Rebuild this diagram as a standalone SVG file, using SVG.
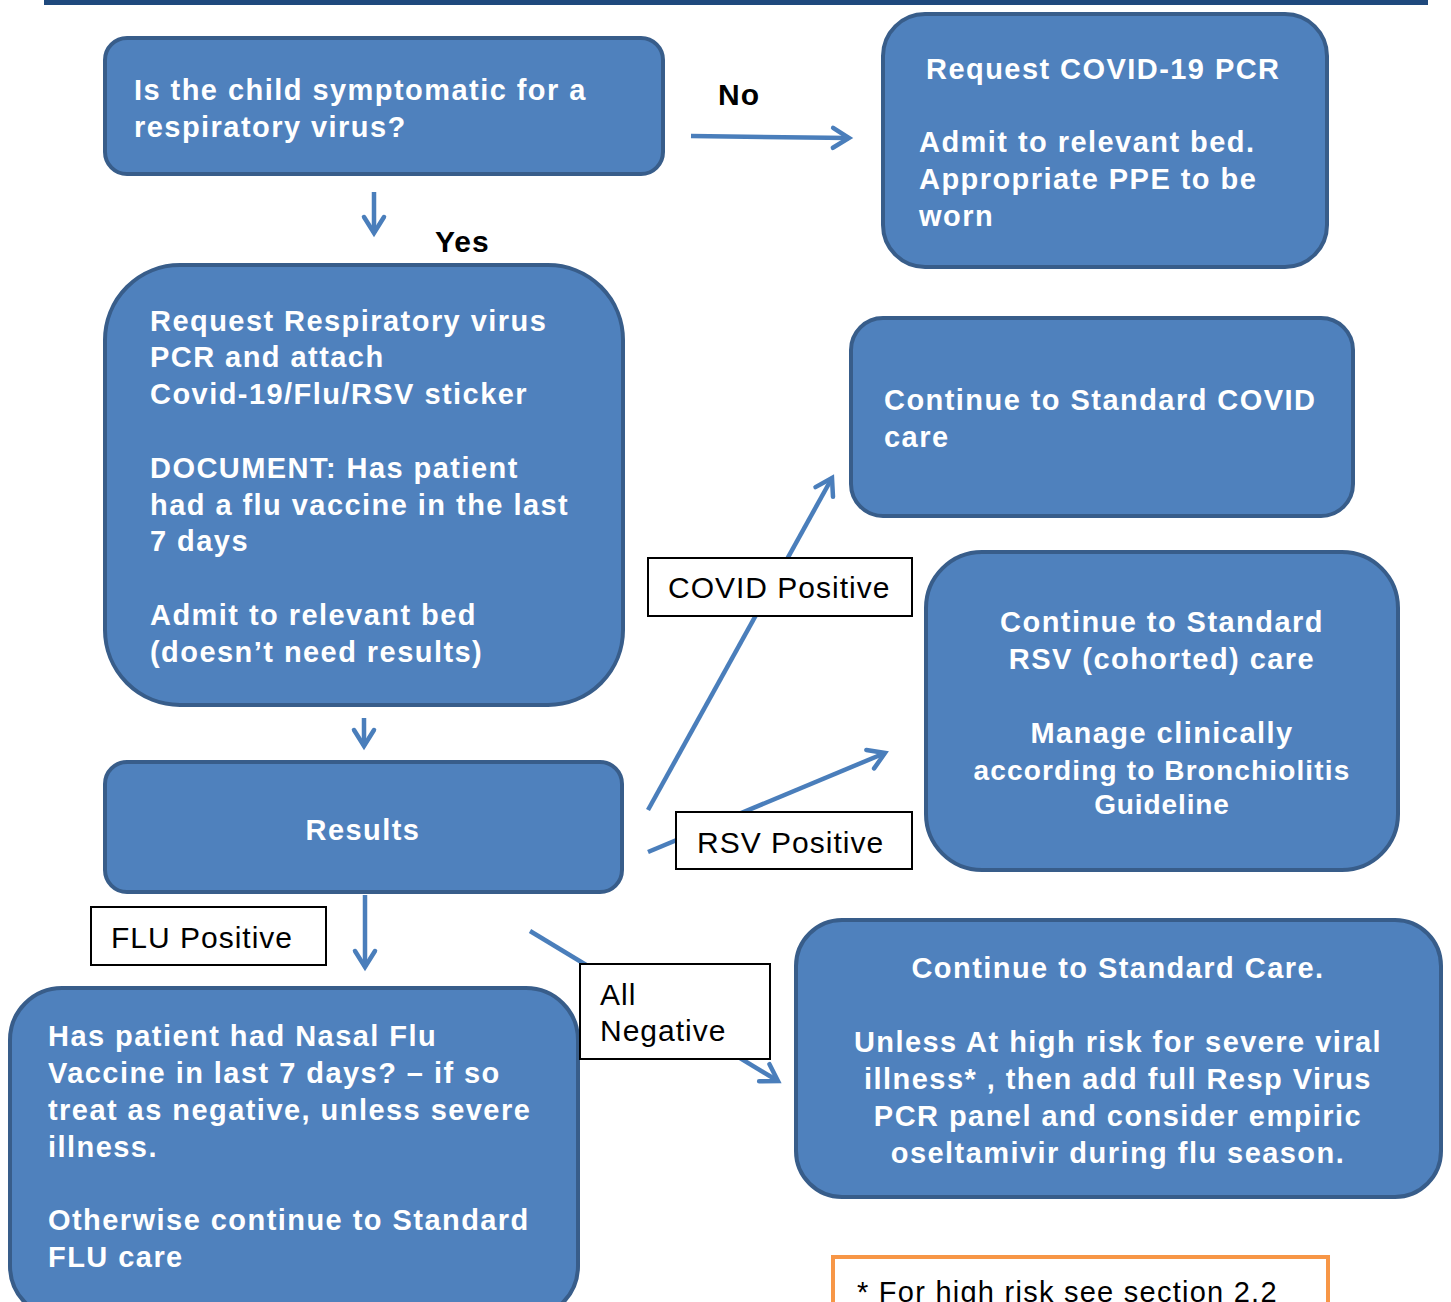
<svg xmlns="http://www.w3.org/2000/svg" width="1451" height="1302" viewBox="0 0 1451 1302">
<defs>
<style>
.box{fill:#4F81BD;stroke:#385D8A;stroke-width:4}
.bt{font-family:"Liberation Sans",Arial,sans-serif;font-weight:bold;font-size:29px;fill:#FFFFFF;letter-spacing:1.45px}
.mid{text-anchor:middle}
.lbl{fill:#FFFFFF;stroke:#000000;stroke-width:2}
.lt{font-family:"Liberation Sans",Arial,sans-serif;font-size:30px;fill:#000000;letter-spacing:1px}
.yn{font-family:"Liberation Sans",Arial,sans-serif;font-weight:bold;font-size:30px;fill:#000000;letter-spacing:1px}
.conn{stroke:#4A7EBB;stroke-width:4.5;fill:none}
</style>
<marker id="ah" markerWidth="8" markerHeight="8" refX="6.5" refY="4" orient="auto" markerUnits="userSpaceOnUse" viewBox="0 0 8 8" style="overflow:visible">
<path d="M-9.5,-6 L6.5,4 L-9.5,14" fill="none" stroke="#4A7EBB" stroke-width="4.5" stroke-linecap="round" stroke-linejoin="miter"/>
</marker>
</defs>
<rect x="44" y="0" width="1384" height="5" fill="#1F497D"/>
<g id="connectors">
<line class="conn" x1="691" y1="136" x2="849" y2="138" marker-end="url(#ah)"/>
<line class="conn" x1="374" y1="192" x2="374" y2="233" marker-end="url(#ah)"/>
<line class="conn" x1="364" y1="718" x2="364" y2="746" marker-end="url(#ah)"/>
<line class="conn" x1="365" y1="895" x2="365" y2="967" marker-end="url(#ah)"/>
<line class="conn" x1="648" y1="810" x2="832" y2="478" marker-end="url(#ah)"/>
<line class="conn" x1="648" y1="852" x2="885" y2="753" marker-end="url(#ah)"/>
<line class="conn" x1="530" y1="931" x2="778" y2="1081" marker-end="url(#ah)"/>
</g>
<g id="node-symptomatic">
<rect class="box" x="105" y="38" width="558" height="136" rx="22"/>
<text class="bt" x="134" y="100">Is the child symptomatic for a</text>
<text class="bt" x="134" y="137">respiratory virus?</text>
</g>
<g id="node-covid-pcr">
<rect class="box" x="883" y="14" width="444" height="253" rx="42"/>
<text class="bt" x="926" y="79">Request COVID-19 PCR</text>
<text class="bt" x="919" y="152">Admit to relevant bed.</text>
<text class="bt" x="919" y="189">Appropriate PPE to be</text>
<text class="bt" x="919" y="226">worn</text>
</g>
<g id="node-request-resp">
<rect class="box" x="105" y="265" width="518" height="440" rx="75"/>
<text class="bt" x="150" y="331">Request Respiratory virus</text>
<text class="bt" x="150" y="367">PCR and attach</text>
<text class="bt" x="150" y="404">Covid-19/Flu/RSV sticker</text>
<text class="bt" x="150" y="478">DOCUMENT: Has patient</text>
<text class="bt" x="150" y="515">had a flu vaccine in the last</text>
<text class="bt" x="150" y="551">7 days</text>
<text class="bt" x="150" y="625">Admit to relevant bed</text>
<text class="bt" x="150" y="662">(doesn’t need results)</text>
</g>
<g id="node-std-covid">
<rect class="box" x="851" y="318" width="502" height="198" rx="32"/>
<text class="bt" x="884" y="410">Continue to Standard COVID</text>
<text class="bt" x="884" y="447">care</text>
</g>
<g id="node-rsv">
<rect class="box" x="926" y="552" width="472" height="318" rx="56"/>
<text class="bt mid" x="1162" y="632">Continue to Standard</text>
<text class="bt mid" x="1162" y="669">RSV (cohorted) care</text>
<text class="bt mid" x="1162" y="743">Manage clinically</text>
<text class="bt mid" x="1162" y="780" style="font-size:28px;letter-spacing:1.15px">according to Bronchiolitis</text>
<text class="bt mid" x="1162" y="814" style="font-size:28px;letter-spacing:0.9px">Guideline</text>
</g>
<g id="node-results">
<rect class="box" x="105" y="762" width="517" height="130" rx="22"/>
<text class="bt mid" x="363" y="840">Results</text>
</g>
<g id="node-flu">
<rect class="box" x="10" y="988" width="568" height="330" rx="52"/>
<text class="bt" x="48" y="1046">Has patient had Nasal Flu</text>
<text class="bt" x="48" y="1083">Vaccine in last 7 days? – if so</text>
<text class="bt" x="48" y="1120">treat as negative, unless severe</text>
<text class="bt" x="48" y="1157">illness.</text>
<text class="bt" x="48" y="1230">Otherwise continue to Standard</text>
<text class="bt" x="48" y="1267">FLU care</text>
</g>
<g id="node-std-care">
<rect class="box" x="796" y="920" width="645" height="277" rx="46"/>
<text class="bt mid" x="1118" y="978">Continue to Standard Care.</text>
<text class="bt mid" x="1118" y="1052">Unless At high risk for severe viral</text>
<text class="bt mid" x="1118" y="1089">illness* , then add full Resp Virus</text>
<text class="bt mid" x="1118" y="1126">PCR panel and consider empiric</text>
<text class="bt mid" x="1118" y="1163">oseltamivir during flu season.</text>
</g>
<g id="label-covid-pos">
<rect class="lbl" x="648" y="558" width="264" height="58"/>
<text class="lt" x="668" y="598">COVID Positive</text>
</g>
<g id="label-rsv-pos">
<rect class="lbl" x="676" y="812" width="236" height="57"/>
<text class="lt" x="697" y="853">RSV Positive</text>
</g>
<g id="label-flu-pos">
<rect class="lbl" x="91" y="907" width="235" height="58"/>
<text class="lt" x="111" y="948">FLU Positive</text>
</g>
<g id="label-all-neg">
<rect class="lbl" x="580" y="964" width="190" height="95"/>
<text class="lt" x="600" y="1005">All</text>
<text class="lt" x="600" y="1041">Negative</text>
</g>
<g id="label-no"><text class="yn" x="718" y="105">No</text></g>
<g id="label-yes"><text class="yn" x="435" y="252">Yes</text></g>
<g id="note-high-risk">
<rect x="833" y="1257" width="495" height="80" fill="#FFFFFF" stroke="#F79646" stroke-width="4"/>
<text class="lt" x="857" y="1302" style="font-size:29px;letter-spacing:1.25px">* For high risk see section 2.2</text>
</g>
</svg>
